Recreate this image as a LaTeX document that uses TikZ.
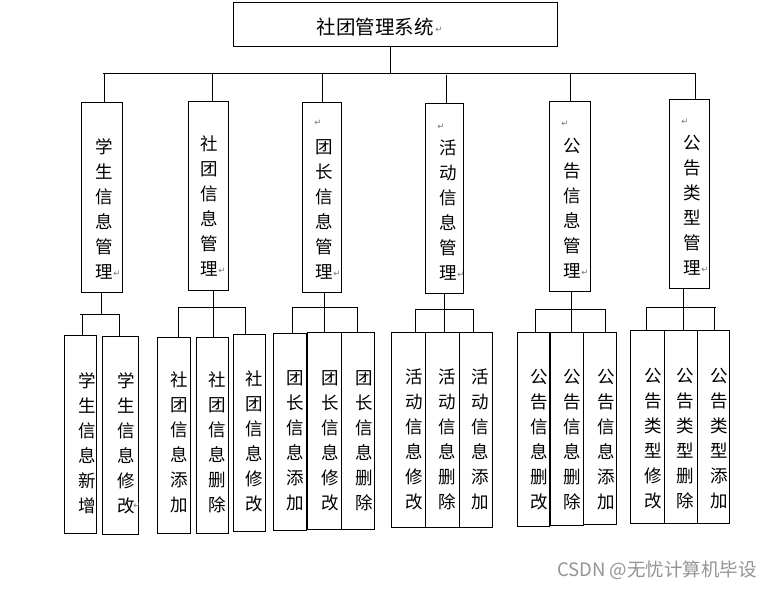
\documentclass[tikz,border=0pt]{standalone}
\usepackage{fontspec}
\newfontfamily\cjk{Noto Sans CJK SC}
\newfontfamily\dvs{DejaVu Sans}
\newcommand\vcol[4]{%
  \foreach \c [count=\i from 0] in {#4} {\node[ch] (#1-\i) at (#2,{#3+25*\i}) {\c};}}
\begin{document}
\begin{tikzpicture}[x=1pt,y=-1pt,
  box/.style={draw, line width=0.9pt, inner sep=0pt},
  ch/.style={font=\cjk\fontsize{17.5}{17.5}\selectfont, inner sep=0pt},
  ret/.style={font=\dvs\fontsize{8.5}{8.5}\selectfont, text=black!55, inner sep=0pt},
  conn/.style={line width=0.9pt}]
\useasboundingbox (0,0) rectangle (772,589);
\fill[white] (0,0) rectangle (772,589);

% top
\node[box, minimum width=324, minimum height=44] (top) at (395,24) {};
\node[font=\cjk\fontsize{19.5}{19.5}\selectfont, inner sep=0pt] (title) at (375,27) {社团管理系统};
\node[ret] (titleret) at (439,30) {↵};

% level 1 boxes
\node[box, minimum width=41, minimum height=190] (m1) at (101.5,197) {};
\node[box, minimum width=40, minimum height=189] (m2) at (208,195.5) {};
\node[box, minimum width=39, minimum height=190] (m3) at (321.5,197) {};
\node[box, minimum width=38, minimum height=190] (m4) at (444,198) {};
\node[box, minimum width=41, minimum height=190] (m5) at (569.5,196) {};
\node[box, minimum width=40, minimum height=189] (m6) at (689,193.5) {};

\vcol{t1}{104}{147}{学,生,信,息,管,理}
\vcol{t2}{209}{144}{社,团,信,息,管,理}
\vcol{t3}{324}{147}{团,长,信,息,管,理}
\vcol{t4}{448}{148}{活,动,信,息,管,理}
\vcol{t5}{572}{146}{公,告,信,息,管,理}
\vcol{t6}{692}{143}{公,告,类,型,管,理}
\node[ret] (r1) at (117,274) {↵};
\node[ret] (r2) at (222,271) {↵};
\node[ret] (r3) at (337,274) {↵};
\node[ret] (r3t) at (318,123) {↵};
\node[ret] (r4) at (461,275) {↵};
\node[ret] (r4t) at (441,127) {↵};
\node[ret] (r5) at (585,273) {↵};
\node[ret] (r5t) at (565,124) {↵};
\node[ret] (r6) at (705,270) {↵};
\node[ret] (r6t) at (685,122) {↵};

% top connectors
\coordinate (busL) at (103,73);
\coordinate (busR) at (696,73);
\draw[conn] ([xshift=-5pt]top.south) -- ([xshift=-5pt]top.south |- busL);
\draw[conn] (busL) -- (busR);
\coordinate (d1) at (104,73);
\coordinate (d2) at (212,73);
\coordinate (d3) at (322,73);
\coordinate (d4) at (446,75);
\coordinate (d5) at (570,73);
\coordinate (d6) at (695,73);
\foreach \k in {1,...,6} {\draw[conn] (d\k) -- (d\k |- m\k.north);}

% level 2 boxes
\node[box, minimum width=32, minimum height=198] (c11) at (80,434) {};
\node[box, minimum width=36, minimum height=198] (c12) at (120,435) {};
\node[box, minimum width=33, minimum height=196] (c21) at (173.5,435) {};
\node[box, minimum width=32, minimum height=196] (c22) at (212,435) {};
\node[box, minimum width=32, minimum height=197] (c23) at (249,432.5) {};
\node[box, minimum width=33, minimum height=197] (c31) at (289.5,431.5) {};
\node[box, minimum width=34, minimum height=197] (c32) at (324,430.5) {};
\node[box, minimum width=33, minimum height=197] (c33) at (357.5,430.5) {};
\node[box, minimum width=34, minimum height=195] (c41) at (408,429.5) {};
\node[box, minimum width=34, minimum height=195] (c42) at (442,429.5) {};
\node[box, minimum width=33, minimum height=195] (c43) at (475.5,429.5) {};
\node[box, minimum width=32, minimum height=194] (c51) at (533,429) {};
\node[box, minimum width=33, minimum height=193] (c52) at (566.5,428.5) {};
\node[box, minimum width=33, minimum height=192] (c53) at (599.5,428) {};
\node[box, minimum width=34, minimum height=193] (c61) at (647,426.5) {};
\node[box, minimum width=33, minimum height=193] (c62) at (680.5,426.5) {};
\node[box, minimum width=32, minimum height=193] (c63) at (713,426.5) {};

\vcol{s11}{87}{381}{学,生,信,息,新,增}
\vcol{s12}{126}{381}{学,生,信,息,修,改}
\node[ret] (r12) at (137,506) {↵};
\vcol{s21}{179}{380}{社,团,信,息,添,加}
\vcol{s22}{217}{380}{社,团,信,息,删,除}
\vcol{s23}{254}{379}{社,团,信,息,修,改}
\vcol{s31}{295}{378}{团,长,信,息,添,加}
\vcol{s32}{330}{378}{团,长,信,息,修,改}
\vcol{s33}{364}{378}{团,长,信,息,删,除}
\vcol{s41}{414}{377}{活,动,信,息,修,改}
\vcol{s42}{447}{377}{活,动,信,息,删,除}
\vcol{s43}{480}{377}{活,动,信,息,添,加}
\vcol{s51}{539}{377}{公,告,信,息,删,改}
\vcol{s52}{572}{377}{公,告,信,息,删,除}
\vcol{s53}{606}{377}{公,告,信,息,添,加}
\vcol{s61}{653}{376}{公,告,类,型,修,改}
\vcol{s62}{685}{376}{公,告,类,型,删,除}
\vcol{s63}{719}{376}{公,告,类,型,添,加}

% group 1
\coordinate (b1L) at (82,314);
\coordinate (b1R) at (119,314);
\draw[conn] (m1.south) -- (m1.south |- b1L);
\draw[conn] ([xshift=-2pt]b1L) -- (b1R);
\draw[conn] (b1L) -- (b1L |- c11.north);
\draw[conn] (b1R) -- (b1R |- c12.north);
% group 2
\coordinate (b2L) at (178,307);
\coordinate (b2M) at (213,307);
\coordinate (b2R) at (245,307);
\draw[conn] (b2M |- m2.south) -- (b2M |- c22.north);
\draw[conn] (b2L) -- (b2R);
\draw[conn] (b2L) -- (b2L |- c21.north);
\draw[conn] (b2R) -- (b2R |- c23.north);
% group 3
\coordinate (b3L) at (292,307);
\coordinate (b3M) at (324,307);
\coordinate (b3R) at (357,307);
\draw[conn] (b3M |- m3.south) -- (b3M |- c32.north);
\draw[conn] (b3L) -- (b3R);
\draw[conn] (b3L) -- (b3L |- c31.north);
\draw[conn] (b3R) -- (b3R |- c33.north);
% group 4
\coordinate (b4L) at (415,309);
\coordinate (b4M) at (444,309);
\coordinate (b4R) at (473,309);
\draw[conn] (b4M |- m4.south) -- (b4M |- c42.north);
\draw[conn] (b4L) -- (b4R);
\draw[conn] (b4L) -- (b4L |- c41.north);
\draw[conn] (b4R) -- (b4R |- c43.north);
% group 5
\coordinate (b5L) at (535,309);
\coordinate (b5M) at (571,309);
\coordinate (b5R) at (605,309);
\draw[conn] (b5M |- m5.south) -- (b5M |- c52.north);
\draw[conn] (b5L) -- (b5R);
\draw[conn] (b5L) -- (b5L |- c51.north);
\draw[conn] (b5R) -- (b5R |- c53.north);
% group 6
\coordinate (b6L) at (646,307);
\coordinate (b6M) at (683,307);
\coordinate (b6R) at (714,307);
\draw[conn] (b6M |- m6.south) -- (b6M |- c62.north);
\draw[conn] (b6L) -- ([xshift=2pt]b6R);
\draw[conn] (b6L) -- (b6L |- c61.north);
\draw[conn] (b6R) -- (b6R |- c63.north);

% watermark
\node[font=\cjk\fontsize{18.5}{18.5}\selectfont, text=black!42, anchor=east, inner sep=0pt] (wm) at (757,570) {CSDN @无忧计算机毕设};
\end{tikzpicture}
\end{document}
